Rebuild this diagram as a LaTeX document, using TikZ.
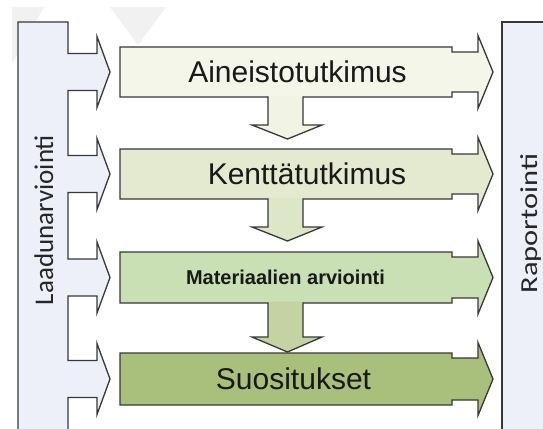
\documentclass[tikz,border=0pt]{standalone}
\usepackage{fontspec}
\setmainfont{Liberation Sans}
\newfontfamily\calfont{Carlito}
\definecolor{wm}{HTML}{F1F1F1}
\definecolor{panelfill}{HTML}{EDF0F8}
\definecolor{outl}{HTML}{383838}
\definecolor{bA}{HTML}{F3F6E8}
\definecolor{bB}{HTML}{E3EAD0}
\definecolor{bC}{HTML}{C8E0B3}
\definecolor{bD}{HTML}{A9BF7C}
\definecolor{aA}{HTML}{F1F4E5}
\definecolor{aB}{HTML}{DDE6C7}
\definecolor{aC}{HTML}{C4D3A1}
\tikzset{
  shapeline/.style={draw=outl, line width=1.3pt, line join=miter},
  boxtext/.style={font=\fontsize{30}{30}\selectfont, text=black!90, inner sep=0pt},
  sidetext/.style={font=\calfont\fontsize{27}{27}\selectfont, text=black!85, inner sep=0pt, rotate=90, anchor=base},
}
\newcommand\boxarrow[4]{% top, bottom, center, colour
  \path[shapeline, fill=#4] (120,#1) -- (452,#1) -- (452,{#1+5}) -- (478,{#1+5}) -- (478,{#3-36.5}) -- (493,#3)
    -- (478,{#3+36.5}) -- (478,{#2-5}) -- (452,{#2-5}) -- (452,#2) -- (120,#2) -- cycle;}
\newcommand\dnarrow[4]{% top, head y, tip y, colour
  \fill[#4] (268,{#1-1.2}) -- (268,#2) -- (252,#2) -- (287.5,#3) -- (322,#2) -- (303,#2) -- (303,{#1-1.2}) -- cycle;
  \draw[shapeline] (268,{#1-0.6}) -- (268,#2) -- (252,#2) -- (287.5,#3) -- (322,#2) -- (303,#2) -- (303,{#1-0.6});}
\begin{document}
\begin{tikzpicture}[x=1pt,y=-1pt]
\path[use as bounding box, clip] (0,0) rectangle (543,428);
\fill[white] (0,0) rectangle (543,428);
% faint watermark
\fill[wm] (12,7) -- (44,7) -- (12,64) -- cycle;
\fill[wm] (110,7) -- (166,7) -- (138,45) -- cycle;
% left panel (comb)
\path[shapeline, fill=panelfill] (18,440) -- (18,22) -- (68,22)
  -- (68,53.5) -- (97,53.5) -- (97,36.5) -- (110,72) -- (97,107.5) -- (97,90.5) -- (68,90.5)
  -- (68,155.5) -- (97,155.5) -- (97,138.5) -- (110,174) -- (97,209.5) -- (97,192.5) -- (68,192.5)
  -- (68,259) -- (97,259) -- (97,242) -- (110,277.5) -- (97,313) -- (97,296) -- (68,296)
  -- (68,360.5) -- (97,360.5) -- (97,343.5) -- (110,379) -- (97,414.5) -- (97,397.5) -- (68,397.5)
  -- (68,440);
% right panel
\path[shapeline, fill=panelfill] (502,440) -- (502,22) -- (570,22) -- (570,440);
% boxes with right arrows
\boxarrow{47}{97}{72}{bA}
\boxarrow{149}{199}{174}{bB}
\boxarrow{252}{303}{277.5}{bC}
\boxarrow{353}{405}{379}{bD}
% down arrows
\dnarrow{97}{125}{139}{aA}
\dnarrow{199}{227}{241}{aB}
\dnarrow{303}{337}{352}{aC}
% texts
\node[boxtext] (t1) at (297.5,72) {Aineistotutkimus};
\node[boxtext] (t2) at (307,174) {Kenttätutkimus};
\node[boxtext, font=\fontsize{20}{20}\selectfont\bfseries] (t3) at (285.5,277.5) {Materiaalien arviointi};
\node[boxtext] (t4) at (293.5,379) {Suositukset};
\node[sidetext] (lq) at (53,220) {Laadunarviointi};
\node[sidetext] (rp) at (537.5,223.5) {\scalebox{1}[0.8]{\fontsize{30.5}{30}\selectfont Raportointi}};
\end{tikzpicture}
\end{document}
